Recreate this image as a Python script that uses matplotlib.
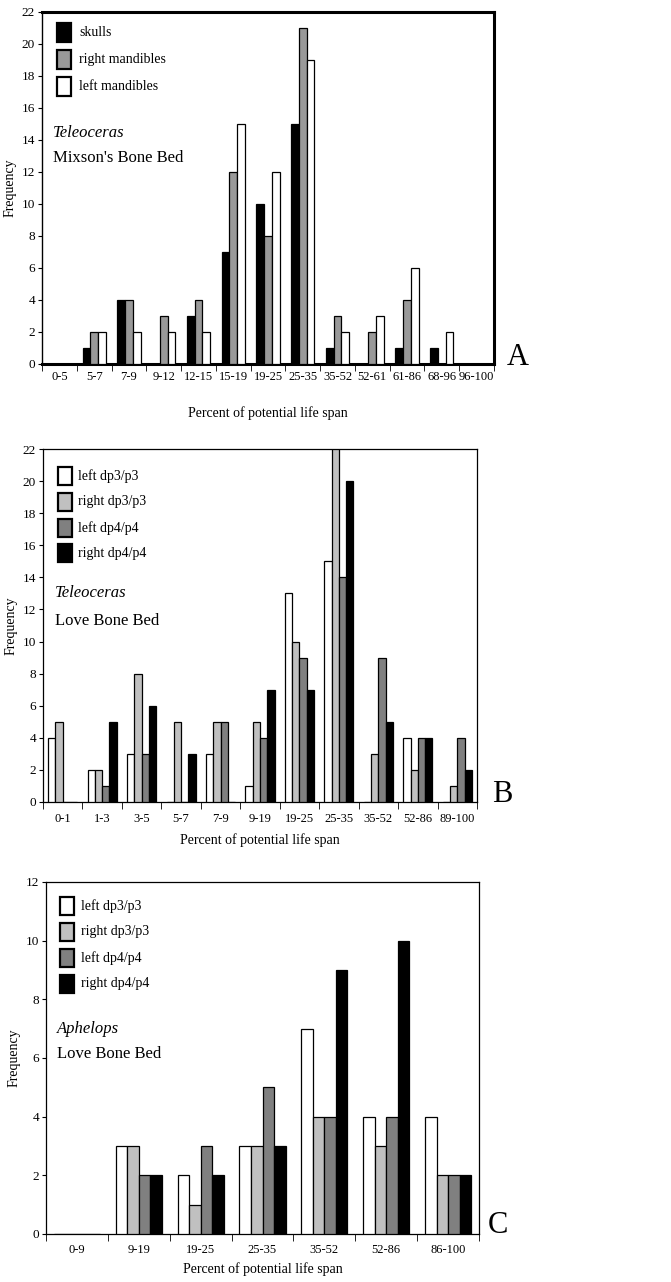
import numpy as np
import matplotlib
matplotlib.use("Agg")
import matplotlib.pyplot as plt
from matplotlib.patches import Rectangle

plt.rcParams['font.family'] = ['Liberation Serif', 'DejaVu Serif']

# panel A: Teleoceras, Mixson's Bone Bed
catsA = ["0-5", "5-7", "7-9", "9-12", "12-15", "15-19", "19-25", "25-35",
         "35-52", "52-61", "61-86", "68-96", "96-100"]
skulls = [0, 1, 4, 0, 3, 7, 10, 15, 1, 0, 1, 1, 0]
right_mand = [0, 2, 4, 3, 4, 12, 8, 21, 3, 2, 4, 0, 0]
left_mand = [0, 2, 2, 2, 2, 15, 12, 19, 2, 3, 6, 2, 0]

# panel B: Teleoceras, Love Bone Bed
catsB = ["0-1", "1-3", "3-5", "5-7", "7-9", "9-19", "19-25", "25-35",
         "35-52", "52-86", "89-100"]
B_left_dp3 = [4, 2, 3, 0, 3, 1, 13, 15, 0, 4, 0]
B_right_dp3 = [5, 2, 8, 5, 5, 5, 10, 22, 3, 2, 1]
B_left_dp4 = [0, 1, 3, 0, 5, 4, 9, 14, 9, 4, 4]
B_right_dp4 = [0, 5, 6, 3, 0, 7, 7, 20, 5, 4, 2]

# panel C: Aphelops, Love Bone Bed
catsC = ["0-9", "9-19", "19-25", "25-35", "35-52", "52-86", "86-100"]
C_left_dp3 = [0, 3, 2, 3, 7, 4, 4]
C_right_dp3 = [0, 3, 1, 3, 4, 3, 2]
C_left_dp4 = [0, 2, 3, 5, 4, 4, 2]
C_right_dp4 = [0, 2, 2, 3, 9, 10, 2]

labA = ["skulls", "right mandibles", "left mandibles"]
colA = ["black", "#999999", "white"]
labBC = ["left dp3/p3", "right dp3/p3", "left dp4/p4", "right dp4/p4"]
colBC = ["white", "#c0c0c0", "#808080", "black"]

W, H = 671, 1282
fig = plt.figure(figsize=(W / 100, H / 100), dpi=100)


def px_axes(l, r, t, b):
    return fig.add_axes([l / W, 1 - b / H, (r - l) / W, (b - t) / H])


def grouped(ax, cats, series, colors, w, ymax, xpad):
    n = len(cats)
    x = np.arange(n) + 0.5
    k = len(series)
    for i, (vals, c) in enumerate(zip(series, colors)):
        off = (i - (k - 1) / 2) * w
        ax.bar(x + off, vals, w, color=c, edgecolor="black", linewidth=0.9,
               zorder=3)
    ax.set_xlim(0, n)
    ax.set_ylim(0, ymax)
    ax.set_yticks(range(0, ymax + 1, 2))
    ax.set_xticks(x)
    ax.set_xticklabels(cats, fontsize=9)
    ax.set_xticks(np.arange(n + 1), minor=True)
    ax.tick_params(axis="x", which="major", length=0, pad=xpad)
    ax.tick_params(axis="x", which="minor", length=5, direction="out")
    ax.tick_params(axis="y", length=3, labelsize=9.5, pad=2)
    ax.set_ylabel("Frequency", fontsize=10, labelpad=4)


def legend_boxes(ax, x0, tops, sw, sh, tx, labels, colors, fs=10):
    inv = ax.transAxes.inverted()
    for t, lab, c in zip(tops, labels, colors):
        (ax0, ay0) = inv.transform((x0, H - (t + sh)))
        (ax1, ay1) = inv.transform((x0 + sw, H - t))
        ax.add_patch(Rectangle((ax0, ay0), ax1 - ax0, ay1 - ay0,
                               transform=ax.transAxes, facecolor=c,
                               edgecolor="black", linewidth=1.6, zorder=5))
        (txa, tya) = inv.transform((tx, H - (t + sh / 2)))
        ax.text(txa, tya, lab, transform=ax.transAxes, fontsize=fs,
                va="center", ha="left", zorder=5)


def px_text(ax, x, y, s, **kw):
    inv = ax.transAxes.inverted()
    a, b = inv.transform((x, H - y))
    ax.text(a, b, s, transform=ax.transAxes, **kw)


# ---- A ----
axA = px_axes(42, 494, 12, 364)
grouped(axA, catsA, [skulls, right_mand, left_mand], colA, 0.223, 22, 5)
for s in ["top", "right", "bottom"]:
    axA.spines[s].set_linewidth(2.2)
axA.spines["left"].set_linewidth(1.0)
axA.set_xlabel("Percent of potential life span", fontsize=10, labelpad=17)
legend_boxes(axA, 57, [23, 50, 77], 14, 19, 79, labA, colA)
px_text(axA, 53, 133, "Teleoceras", fontsize=12, style="italic", va="center")
px_text(axA, 53, 158, "Mixson's Bone Bed", fontsize=12, va="center")
px_text(axA, 507, 365, "A", fontsize=22, va="baseline")

# ---- B ----
axB = px_axes(43, 477, 449, 802)
grouped(axB, catsB, [B_left_dp3, B_right_dp3, B_left_dp4, B_right_dp4],
        colBC, 0.184, 22, 8)
for s in axB.spines.values():
    s.set_linewidth(0.9)
axB.set_xlabel("Percent of potential life span", fontsize=10, labelpad=6)
legend_boxes(axB, 58, [467, 493, 519, 544], 14, 18, 78, labBC, colBC)
px_text(axB, 55, 593, "Teleoceras", fontsize=12, style="italic", va="center")
px_text(axB, 55, 621, "Love Bone Bed", fontsize=12, va="center")
px_text(axB, 492, 802, "B", fontsize=22, va="baseline")

# ---- C ----
axC = px_axes(46, 479, 882, 1234)
grouped(axC, catsC, [C_left_dp3, C_right_dp3, C_left_dp4, C_right_dp4],
        colBC, 0.187, 12, 7)
for s in axC.spines.values():
    s.set_linewidth(0.9)
axC.set_xlabel("Percent of potential life span", fontsize=10, labelpad=5)
legend_boxes(axC, 60, [897, 923, 949, 975], 14, 18, 81, labBC, colBC)
px_text(axC, 57, 1029, "Aphelops", fontsize=12, style="italic", va="center")
px_text(axC, 57, 1054, "Love Bone Bed", fontsize=12, va="center")
px_text(axC, 488, 1233, "C", fontsize=22, va="baseline")

fig.savefig("out.png", dpi=100)
